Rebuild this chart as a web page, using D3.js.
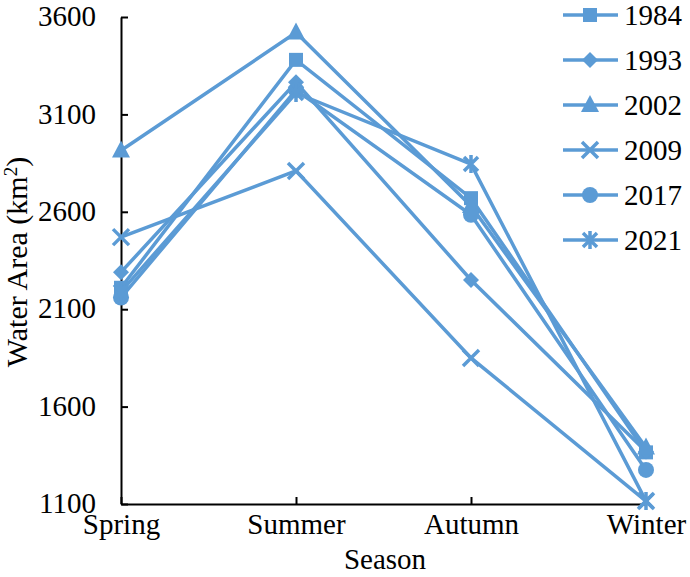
<!DOCTYPE html>
<html><head><meta charset="utf-8">
<script src="https://cdn.jsdelivr.net/npm/d3@7/dist/d3.min.js"></script>
<style>body{margin:0;background:#fff}svg{display:block}text{font-family:"Liberation Serif","Times New Roman",serif}</style>
</head><body><svg id="c" width="690" height="577"></svg>
<script>
const seasons = ["Spring","Summer","Autumn","Winter"];
const years = ["1984","1993","2002","2009","2017","2021"];
const v1984 = [2210,3380,2670,1365];
const v1993 = [2290,3265,2250,1370];
const v2002 = [2915,3520,2630,1390];
const v2009 = [2470,2810,1850,1115];
const v2017 = [2160,3225,2585,1275];
const v2021 = [2190,3210,2845,1115];
const yTicks = [1100,1600,2100,2600,3100,3600];
const series = [v1984,v1993,v2002,v2009,v2017,v2021];
const markers = ["square","diamond","triangle","x","circle","asterisk"];

const color = "#5B9BD5";
const fs = 29;
const svg = d3.select("#c");
const x = d3.scalePoint().domain(seasons).range([121,646]);
const y = d3.scaleLinear().domain([1100,3600]).range([504,17]);

const ya = svg.append("g").attr("transform","translate(121,0)")
  .call(d3.axisLeft(y).tickValues(yTicks).tickFormat(d3.format("d")).tickSizeInner(-7).tickSizeOuter(0).tickPadding(25));
const xa = svg.append("g").attr("transform","translate(0,504)")
  .call(d3.axisBottom(x).tickSizeInner(-7).tickSizeOuter(0).tickPadding(9));
[ya,xa].forEach(g=>{
  g.select(".domain").attr("stroke","#000").attr("stroke-width",2);
  g.selectAll(".tick line").attr("stroke","#000").attr("stroke-width",2);
  g.selectAll(".tick text").attr("font-size",fs).attr("fill","#000").attr("font-family","Liberation Serif");
});
ya.selectAll(".tick text").attr("dy","0.3em");

svg.append("text").attr("transform","translate(27,262) rotate(-90)").attr("text-anchor","middle")
  .attr("font-size",30).attr("fill","#000")
  .html('Water Area (km<tspan baseline-shift="super" font-size="19">2</tspan>)');
svg.append("text").attr("x",385).attr("y",569).attr("text-anchor","middle").attr("font-size",fs).attr("fill","#000").text("Season");

function drawMarker(g, type, cx, cy){
  const s = 7;
  if(type==="square") g.append("rect").attr("x",cx-s).attr("y",cy-s).attr("width",2*s).attr("height",2*s).attr("fill",color);
  else if(type==="diamond") g.append("path").attr("d",`M${cx},${cy-8}L${cx+8},${cy}L${cx},${cy+8}L${cx-8},${cy}Z`).attr("fill",color);
  else if(type==="triangle") g.append("path").attr("d",`M${cx},${cy-10}L${cx+9},${cy+7}L${cx-9},${cy+7}Z`).attr("fill",color);
  else if(type==="circle") g.append("circle").attr("cx",cx).attr("cy",cy).attr("r",8).attr("fill",color);
  else if(type==="x") g.append("path").attr("d",`M${cx-8},${cy-8}L${cx+8},${cy+8}M${cx-8},${cy+8}L${cx+8},${cy-8}`).attr("stroke",color).attr("stroke-width",3.5);
  else if(type==="asterisk") g.append("path").attr("d",`M${cx-7},${cy-7}L${cx+7},${cy+7}M${cx-7},${cy+7}L${cx+7},${cy-7}M${cx},${cy-9}L${cx},${cy+9}`).attr("stroke",color).attr("stroke-width",3.5);
}

const line = d3.line().x((d,i)=>x(seasons[i])).y(d=>y(d));
series.forEach((vals,k)=>{
  const g = svg.append("g");
  g.append("path").attr("d",line(vals)).attr("fill","none").attr("stroke",color).attr("stroke-width",3.5);
  vals.forEach((v,i)=>drawMarker(g, markers[k], x(seasons[i]), y(v)));
});

years.forEach((yr,k)=>{
  const ly = 15 + k*45;
  const g = svg.append("g");
  g.append("line").attr("x1",563).attr("x2",618).attr("y1",ly).attr("y2",ly).attr("stroke",color).attr("stroke-width",3.5);
  drawMarker(g, markers[k], 590, ly);
  g.append("text").attr("x",624).attr("y",ly).attr("dy","0.35em").attr("font-size",fs).attr("fill","#000").text(yr);
});
</script></body></html>
